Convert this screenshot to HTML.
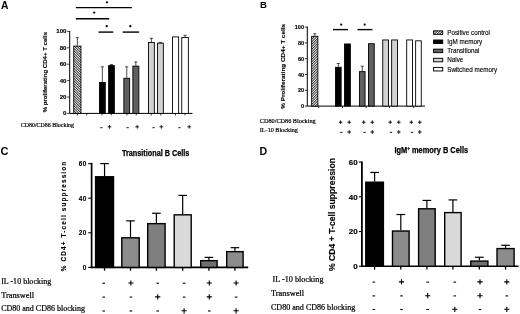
<!DOCTYPE html><html><head><meta charset="utf-8"><style>html,body{margin:0;padding:0;background:#fff;}svg{display:block;will-change:transform;} text{-webkit-font-smoothing:antialiased;}</style></head><body>
<svg width="520" height="314" viewBox="0 0 520 314">
<defs>
<pattern id="hA" patternUnits="userSpaceOnUse" width="1.77" height="4" patternTransform="rotate(-45)"><rect width="1.77" height="4" fill="#fff"/><rect width="0.75" height="4" fill="#000"/></pattern>
<pattern id="hB" patternUnits="userSpaceOnUse" width="1.77" height="4" patternTransform="rotate(45)"><rect width="1.77" height="4" fill="#fff"/><rect width="0.75" height="4" fill="#000"/></pattern>
</defs>
<rect width="520" height="314" fill="#fff"/>
<text x="1.0" y="8.9" font-family='"Liberation Sans", sans-serif' font-size="10.3" font-weight="bold" text-anchor="start" fill="#000" >A</text>
<line x1="69.7" y1="31.0" x2="69.7" y2="113.4" stroke="#000" stroke-width="1"/>
<line x1="69.7" y1="113.4" x2="192.5" y2="113.4" stroke="#000" stroke-width="1"/>
<line x1="67.2" y1="113.40" x2="69.7" y2="113.40" stroke="#000" stroke-width="0.8"/>
<text x="66.5" y="115.30" font-family='"Liberation Sans", sans-serif' font-size="6.1" font-weight="bold" text-anchor="end" fill="#000" stroke="#000" stroke-width="0.15">0</text>
<line x1="67.2" y1="97.00" x2="69.7" y2="97.00" stroke="#000" stroke-width="0.8"/>
<text x="66.5" y="98.90" font-family='"Liberation Sans", sans-serif' font-size="6.1" font-weight="bold" text-anchor="end" fill="#000" stroke="#000" stroke-width="0.15">20</text>
<line x1="67.2" y1="80.60" x2="69.7" y2="80.60" stroke="#000" stroke-width="0.8"/>
<text x="66.5" y="82.50" font-family='"Liberation Sans", sans-serif' font-size="6.1" font-weight="bold" text-anchor="end" fill="#000" stroke="#000" stroke-width="0.15">40</text>
<line x1="67.2" y1="64.20" x2="69.7" y2="64.20" stroke="#000" stroke-width="0.8"/>
<text x="66.5" y="66.10" font-family='"Liberation Sans", sans-serif' font-size="6.1" font-weight="bold" text-anchor="end" fill="#000" stroke="#000" stroke-width="0.15">60</text>
<line x1="67.2" y1="47.80" x2="69.7" y2="47.80" stroke="#000" stroke-width="0.8"/>
<text x="66.5" y="49.70" font-family='"Liberation Sans", sans-serif' font-size="6.1" font-weight="bold" text-anchor="end" fill="#000" stroke="#000" stroke-width="0.15">80</text>
<line x1="67.2" y1="31.40" x2="69.7" y2="31.40" stroke="#000" stroke-width="0.8"/>
<text x="66.5" y="33.30" font-family='"Liberation Sans", sans-serif' font-size="6.1" font-weight="bold" text-anchor="end" fill="#000" stroke="#000" stroke-width="0.15">100</text>
<line x1="77.5" y1="113.4" x2="77.5" y2="115.4" stroke="#000" stroke-width="0.8"/>
<line x1="86.75" y1="113.4" x2="86.75" y2="115.4" stroke="#000" stroke-width="0.8"/>
<line x1="102" y1="113.4" x2="102" y2="115.4" stroke="#000" stroke-width="0.8"/>
<line x1="111.25" y1="113.4" x2="111.25" y2="115.4" stroke="#000" stroke-width="0.8"/>
<line x1="127" y1="113.4" x2="127" y2="115.4" stroke="#000" stroke-width="0.8"/>
<line x1="136.25" y1="113.4" x2="136.25" y2="115.4" stroke="#000" stroke-width="0.8"/>
<line x1="151.25" y1="113.4" x2="151.25" y2="115.4" stroke="#000" stroke-width="0.8"/>
<line x1="160.75" y1="113.4" x2="160.75" y2="115.4" stroke="#000" stroke-width="0.8"/>
<line x1="175.5" y1="113.4" x2="175.5" y2="115.4" stroke="#000" stroke-width="0.8"/>
<line x1="185" y1="113.4" x2="185" y2="115.4" stroke="#000" stroke-width="0.8"/>
<text x="0" y="0" transform="translate(45.2,72.1) rotate(-90)" font-family='"Liberation Sans", sans-serif' font-size="6" font-weight="bold" text-anchor="middle" dominant-baseline="central" stroke="#000" stroke-width="0.12" textLength="80.4" lengthAdjust="spacingAndGlyphs" >% proliferating CD4+ T cells</text>
<rect x="73.75" y="46.12" width="7.20" height="67.28" fill="url(#hA)" stroke="#000" stroke-width="0.9"/>
<line x1="77.35" y1="45.67" x2="77.35" y2="37.71" stroke="#000" stroke-width="0.7"/>
<line x1="75.75" y1="37.71" x2="78.95" y2="37.71" stroke="#000" stroke-width="0.7"/>
<rect x="99.45" y="82.44" width="5.80" height="30.96" fill="#000" stroke="#000" stroke-width="0.9"/>
<line x1="102.35" y1="81.99" x2="102.35" y2="66.82" stroke="#000" stroke-width="0.7"/>
<line x1="100.75" y1="66.82" x2="103.95" y2="66.82" stroke="#000" stroke-width="0.7"/>
<rect x="108.65" y="65.63" width="5.70" height="47.77" fill="#000" stroke="#000" stroke-width="0.9"/>
<line x1="111.50" y1="65.18" x2="111.50" y2="64.61" stroke="#000" stroke-width="0.7"/>
<line x1="109.90" y1="64.61" x2="113.10" y2="64.61" stroke="#000" stroke-width="0.7"/>
<rect x="123.85" y="78.26" width="5.80" height="35.14" fill="#5f5f5f" stroke="#000" stroke-width="0.9"/>
<line x1="126.75" y1="77.81" x2="126.75" y2="66.82" stroke="#000" stroke-width="0.7"/>
<line x1="125.15" y1="66.82" x2="128.35" y2="66.82" stroke="#000" stroke-width="0.7"/>
<rect x="132.85" y="66.13" width="6.00" height="47.27" fill="#5f5f5f" stroke="#000" stroke-width="0.9"/>
<line x1="135.85" y1="65.68" x2="135.85" y2="61.90" stroke="#000" stroke-width="0.7"/>
<line x1="134.25" y1="61.90" x2="137.45" y2="61.90" stroke="#000" stroke-width="0.7"/>
<rect x="148.45" y="42.51" width="5.90" height="70.89" fill="#d2d2d2" stroke="#000" stroke-width="0.9"/>
<line x1="151.40" y1="42.06" x2="151.40" y2="38.29" stroke="#000" stroke-width="0.7"/>
<line x1="149.80" y1="38.29" x2="153.00" y2="38.29" stroke="#000" stroke-width="0.7"/>
<rect x="157.55" y="43.17" width="5.80" height="70.23" fill="#d2d2d2" stroke="#000" stroke-width="0.9"/>
<line x1="160.45" y1="42.72" x2="160.45" y2="42.39" stroke="#000" stroke-width="0.7"/>
<line x1="158.85" y1="42.39" x2="162.05" y2="42.39" stroke="#000" stroke-width="0.7"/>
<rect x="172.55" y="36.93" width="6.10" height="76.47" fill="#fff" stroke="#000" stroke-width="0.9"/>
<rect x="181.75" y="37.51" width="6.60" height="75.89" fill="#fff" stroke="#000" stroke-width="0.9"/>
<line x1="185.05" y1="37.06" x2="185.05" y2="35.25" stroke="#000" stroke-width="0.7"/>
<line x1="183.45" y1="35.25" x2="186.65" y2="35.25" stroke="#000" stroke-width="0.7"/>
<line x1="75.8" y1="7.6" x2="131.8" y2="7.6" stroke="#000" stroke-width="1.4"/>
<line x1="75.8" y1="18.8" x2="109.2" y2="18.8" stroke="#000" stroke-width="1.4"/>
<line x1="98.5" y1="32.1" x2="113.3" y2="32.1" stroke="#000" stroke-width="1.4"/>
<line x1="122.7" y1="32.1" x2="139.1" y2="32.1" stroke="#000" stroke-width="1.4"/>
<circle cx="106.9" cy="2.3" r="1.15" fill="#000"/>
<circle cx="94.2" cy="12.6" r="1.15" fill="#000"/>
<circle cx="106.7" cy="26.2" r="1.15" fill="#000"/>
<circle cx="130.3" cy="26.2" r="1.15" fill="#000"/>
<text x="20.8" y="127.2" font-family='"Liberation Serif", serif' font-size="6.1" font-weight="normal" text-anchor="start" fill="#000" textLength="53.2" lengthAdjust="spacingAndGlyphs" stroke="#000" stroke-width="0.2">CD80/CD86 Blocking</text>
<path d="M100.20 127.70H102.60" stroke="#000" stroke-width="0.85" fill="none"/>
<path d="M107.60 126.80H111.40M109.50 124.90V128.70" stroke="#000" stroke-width="0.85" fill="none"/>
<path d="M126.40 127.70H128.80" stroke="#000" stroke-width="0.85" fill="none"/>
<path d="M135.30 126.80H139.10M137.20 124.90V128.70" stroke="#000" stroke-width="0.85" fill="none"/>
<path d="M152.40 127.70H154.80" stroke="#000" stroke-width="0.85" fill="none"/>
<path d="M159.40 126.80H163.20M161.30 124.90V128.70" stroke="#000" stroke-width="0.85" fill="none"/>
<path d="M178.30 127.70H180.70" stroke="#000" stroke-width="0.85" fill="none"/>
<path d="M187.30 126.80H191.10M189.20 124.90V128.70" stroke="#000" stroke-width="0.85" fill="none"/>
<text x="259.9" y="8.3" font-family='"Liberation Sans", sans-serif' font-size="9.6" font-weight="bold" text-anchor="start" fill="#000" >B</text>
<line x1="307.3" y1="26.6" x2="307.3" y2="106.1" stroke="#000" stroke-width="1"/>
<line x1="307.3" y1="106.1" x2="425" y2="106.1" stroke="#000" stroke-width="1"/>
<line x1="304.8" y1="106.10" x2="307.3" y2="106.10" stroke="#000" stroke-width="0.8"/>
<text x="304.0" y="108.10" font-family='"Liberation Sans", sans-serif' font-size="5.5" font-weight="bold" text-anchor="end" fill="#000" stroke="#000" stroke-width="0.15">0</text>
<line x1="304.8" y1="90.30" x2="307.3" y2="90.30" stroke="#000" stroke-width="0.8"/>
<text x="304.0" y="92.30" font-family='"Liberation Sans", sans-serif' font-size="5.5" font-weight="bold" text-anchor="end" fill="#000" stroke="#000" stroke-width="0.15">20</text>
<line x1="304.8" y1="74.50" x2="307.3" y2="74.50" stroke="#000" stroke-width="0.8"/>
<text x="304.0" y="76.50" font-family='"Liberation Sans", sans-serif' font-size="5.5" font-weight="bold" text-anchor="end" fill="#000" stroke="#000" stroke-width="0.15">40</text>
<line x1="304.8" y1="58.70" x2="307.3" y2="58.70" stroke="#000" stroke-width="0.8"/>
<text x="304.0" y="60.70" font-family='"Liberation Sans", sans-serif' font-size="5.5" font-weight="bold" text-anchor="end" fill="#000" stroke="#000" stroke-width="0.15">60</text>
<line x1="304.8" y1="42.90" x2="307.3" y2="42.90" stroke="#000" stroke-width="0.8"/>
<text x="304.0" y="44.90" font-family='"Liberation Sans", sans-serif' font-size="5.5" font-weight="bold" text-anchor="end" fill="#000" stroke="#000" stroke-width="0.15">80</text>
<line x1="304.8" y1="27.10" x2="307.3" y2="27.10" stroke="#000" stroke-width="0.8"/>
<text x="304.0" y="29.10" font-family='"Liberation Sans", sans-serif' font-size="5.5" font-weight="bold" text-anchor="end" fill="#000" stroke="#000" stroke-width="0.15">100</text>
<line x1="318.75" y1="106.1" x2="318.75" y2="108.1" stroke="#000" stroke-width="0.8"/>
<line x1="342.5" y1="106.1" x2="342.5" y2="108.1" stroke="#000" stroke-width="0.8"/>
<line x1="366.25" y1="106.1" x2="366.25" y2="108.1" stroke="#000" stroke-width="0.8"/>
<line x1="389.5" y1="106.1" x2="389.5" y2="108.1" stroke="#000" stroke-width="0.8"/>
<line x1="413.75" y1="106.1" x2="413.75" y2="108.1" stroke="#000" stroke-width="0.8"/>
<text x="0" y="0" transform="translate(283.0,66.4) rotate(-90)" font-family='"Liberation Sans", sans-serif' font-size="5.8" font-weight="bold" text-anchor="middle" dominant-baseline="central" stroke="#000" stroke-width="0.12" textLength="84.8" lengthAdjust="spacingAndGlyphs" >% Proliferating CD4+ T cells</text>
<rect x="311.65" y="36.32" width="6.20" height="69.78" fill="url(#hB)" stroke="#000" stroke-width="0.9"/>
<line x1="314.75" y1="35.87" x2="314.75" y2="33.74" stroke="#000" stroke-width="0.7"/>
<line x1="313.15" y1="33.74" x2="316.35" y2="33.74" stroke="#000" stroke-width="0.7"/>
<rect x="335.45" y="67.29" width="5.70" height="38.81" fill="#000" stroke="#000" stroke-width="0.9"/>
<line x1="338.30" y1="66.84" x2="338.30" y2="63.52" stroke="#000" stroke-width="0.7"/>
<line x1="336.70" y1="63.52" x2="339.90" y2="63.52" stroke="#000" stroke-width="0.7"/>
<rect x="344.55" y="43.98" width="5.80" height="62.12" fill="#000" stroke="#000" stroke-width="0.9"/>
<rect x="359.45" y="71.63" width="5.60" height="34.47" fill="#5f5f5f" stroke="#000" stroke-width="0.9"/>
<line x1="362.25" y1="71.18" x2="362.25" y2="66.20" stroke="#000" stroke-width="0.7"/>
<line x1="360.65" y1="66.20" x2="363.85" y2="66.20" stroke="#000" stroke-width="0.7"/>
<rect x="368.45" y="43.74" width="5.80" height="62.35" fill="#5f5f5f" stroke="#000" stroke-width="0.9"/>
<rect x="382.75" y="39.95" width="5.80" height="66.15" fill="#d2d2d2" stroke="#000" stroke-width="0.9"/>
<rect x="391.65" y="39.95" width="5.80" height="66.15" fill="#d2d2d2" stroke="#000" stroke-width="0.9"/>
<rect x="406.70" y="39.95" width="5.75" height="66.15" fill="#fff" stroke="#000" stroke-width="0.9"/>
<rect x="415.65" y="40.82" width="5.60" height="65.28" fill="#fff" stroke="#000" stroke-width="0.9"/>
<line x1="333" y1="29.6" x2="348" y2="29.6" stroke="#000" stroke-width="1.4"/>
<line x1="357.5" y1="29.6" x2="372.4" y2="29.6" stroke="#000" stroke-width="1.4"/>
<circle cx="341.2" cy="24.6" r="1.15" fill="#000"/>
<circle cx="364.7" cy="24.6" r="1.15" fill="#000"/>
<rect x="433.6" y="30.85" width="9.1" height="3.5" fill="url(#hB)" stroke="#000" stroke-width="0.95"/>
<text x="447.2" y="34.85" font-family='"Liberation Sans", sans-serif' font-size="6.3" font-weight="normal" text-anchor="start" fill="#000" stroke="#000" stroke-width="0.12">Positive control</text>
<rect x="433.6" y="40.00" width="9.1" height="3.5" fill="#000" stroke="#000" stroke-width="0.95"/>
<text x="447.2" y="44.03" font-family='"Liberation Sans", sans-serif' font-size="6.3" font-weight="normal" text-anchor="start" fill="#000" stroke="#000" stroke-width="0.12">IgM memory</text>
<rect x="433.6" y="49.15" width="9.1" height="3.5" fill="#5f5f5f" stroke="#000" stroke-width="0.95"/>
<text x="447.2" y="53.21" font-family='"Liberation Sans", sans-serif' font-size="6.3" font-weight="normal" text-anchor="start" fill="#000" stroke="#000" stroke-width="0.12">Transitional</text>
<rect x="433.6" y="58.30" width="9.1" height="3.5" fill="#d2d2d2" stroke="#000" stroke-width="0.95"/>
<text x="447.2" y="62.39" font-family='"Liberation Sans", sans-serif' font-size="6.3" font-weight="normal" text-anchor="start" fill="#000" stroke="#000" stroke-width="0.12">Naive</text>
<rect x="433.6" y="67.45" width="9.1" height="3.5" fill="#fff" stroke="#000" stroke-width="0.95"/>
<text x="447.2" y="71.57" font-family='"Liberation Sans", sans-serif' font-size="6.3" font-weight="normal" text-anchor="start" fill="#000" stroke="#000" stroke-width="0.12">Switched memory</text>
<text x="259.8" y="123.0" font-family='"Liberation Serif", serif' font-size="6.4" font-weight="normal" text-anchor="start" fill="#000" textLength="55.8" lengthAdjust="spacingAndGlyphs" stroke="#000" stroke-width="0.2">CD80/CD86 Blocking</text>
<text x="259.8" y="132.2" font-family='"Liberation Serif", serif' font-size="6.4" font-weight="normal" text-anchor="start" fill="#000" textLength="38" lengthAdjust="spacingAndGlyphs" stroke="#000" stroke-width="0.2">IL-10 Blocking</text>
<path d="M338.80 122.20H342.40M340.60 120.40V124.00" stroke="#000" stroke-width="0.9" fill="none"/>
<path d="M340.20 132.40H342.60" stroke="#000" stroke-width="0.9" fill="none"/>
<path d="M347.40 122.20H351.00M349.20 120.40V124.00" stroke="#000" stroke-width="0.9" fill="none"/>
<path d="M347.40 132.00H351.00M349.20 130.20V133.80" stroke="#000" stroke-width="0.9" fill="none"/>
<path d="M361.90 122.20H365.50M363.70 120.40V124.00" stroke="#000" stroke-width="0.9" fill="none"/>
<path d="M363.30 132.40H365.70" stroke="#000" stroke-width="0.9" fill="none"/>
<path d="M370.50 122.20H374.10M372.30 120.40V124.00" stroke="#000" stroke-width="0.9" fill="none"/>
<path d="M370.50 132.00H374.10M372.30 130.20V133.80" stroke="#000" stroke-width="0.9" fill="none"/>
<path d="M388.40 122.20H392.00M390.20 120.40V124.00" stroke="#000" stroke-width="0.9" fill="none"/>
<path d="M389.80 132.40H392.20" stroke="#000" stroke-width="0.9" fill="none"/>
<path d="M397.00 122.20H400.60M398.80 120.40V124.00" stroke="#000" stroke-width="0.9" fill="none"/>
<path d="M397.00 132.00H400.60M398.80 130.20V133.80" stroke="#000" stroke-width="0.9" fill="none"/>
<path d="M409.50 122.20H413.10M411.30 120.40V124.00" stroke="#000" stroke-width="0.9" fill="none"/>
<path d="M410.90 132.40H413.30" stroke="#000" stroke-width="0.9" fill="none"/>
<path d="M418.00 122.20H421.60M419.80 120.40V124.00" stroke="#000" stroke-width="0.9" fill="none"/>
<path d="M418.00 132.00H421.60M419.80 130.20V133.80" stroke="#000" stroke-width="0.9" fill="none"/>
<text x="0.5" y="155.1" font-family='"Liberation Sans", sans-serif' font-size="11" font-weight="bold" text-anchor="start" fill="#000" >C</text>
<line x1="91.6" y1="162.8" x2="91.6" y2="268.2" stroke="#000" stroke-width="1.7"/>
<line x1="90.8" y1="267.4" x2="248.2" y2="267.4" stroke="#000" stroke-width="1.6"/>
<line x1="88.19999999999999" y1="267.40" x2="91.6" y2="267.40" stroke="#000" stroke-width="1.1"/>
<text x="86.5" y="269.70" font-family='"Liberation Sans", sans-serif' font-size="6.4" font-weight="bold" text-anchor="end" fill="#000" letter-spacing="0.3" stroke="#000" stroke-width="0.12">0</text>
<line x1="88.19999999999999" y1="232.80" x2="91.6" y2="232.80" stroke="#000" stroke-width="1.1"/>
<text x="86.5" y="235.10" font-family='"Liberation Sans", sans-serif' font-size="6.4" font-weight="bold" text-anchor="end" fill="#000" letter-spacing="0.3" stroke="#000" stroke-width="0.12">20</text>
<line x1="88.19999999999999" y1="198.20" x2="91.6" y2="198.20" stroke="#000" stroke-width="1.1"/>
<text x="86.5" y="200.50" font-family='"Liberation Sans", sans-serif' font-size="6.4" font-weight="bold" text-anchor="end" fill="#000" letter-spacing="0.3" stroke="#000" stroke-width="0.12">40</text>
<line x1="88.19999999999999" y1="163.60" x2="91.6" y2="163.60" stroke="#000" stroke-width="1.1"/>
<text x="86.5" y="165.90" font-family='"Liberation Sans", sans-serif' font-size="6.4" font-weight="bold" text-anchor="end" fill="#000" letter-spacing="0.3" stroke="#000" stroke-width="0.12">60</text>
<text x="0" y="0" transform="translate(63.9,216.5) rotate(-90)" font-family='"Liberation Sans", sans-serif' font-size="6.4" font-weight="bold" text-anchor="middle" dominant-baseline="central" stroke="#000" stroke-width="0.12" textLength="109.5" lengthAdjust="spacing" >% CD4+ T-cell suppression</text>
<text x="121.9" y="156.0" font-family='"Liberation Sans", sans-serif' font-size="8.3" font-weight="bold" text-anchor="start" fill="#000" textLength="67.5" lengthAdjust="spacingAndGlyphs" stroke="#000" stroke-width="0.25">Transitional B Cells</text>
<rect x="95.60" y="176.76" width="17.90" height="90.64" fill="#000" stroke="#000" stroke-width="1.4"/>
<line x1="104.55" y1="176.06" x2="104.55" y2="163.60" stroke="#000" stroke-width="1.2"/>
<line x1="100.25" y1="163.60" x2="108.85" y2="163.60" stroke="#000" stroke-width="1.2"/>
<line x1="104.55" y1="267.4" x2="104.55" y2="270.7" stroke="#000" stroke-width="1.3"/>
<rect x="121.80" y="237.82" width="17.40" height="29.58" fill="#8c8c8c" stroke="#000" stroke-width="1.4"/>
<line x1="130.50" y1="237.12" x2="130.50" y2="220.86" stroke="#000" stroke-width="1.2"/>
<line x1="126.20" y1="220.86" x2="134.80" y2="220.86" stroke="#000" stroke-width="1.2"/>
<line x1="130.50" y1="267.4" x2="130.50" y2="270.7" stroke="#000" stroke-width="1.3"/>
<rect x="147.70" y="223.64" width="17.40" height="43.76" fill="#7f7f7f" stroke="#000" stroke-width="1.4"/>
<line x1="156.40" y1="222.94" x2="156.40" y2="213.25" stroke="#000" stroke-width="1.2"/>
<line x1="152.10" y1="213.25" x2="160.70" y2="213.25" stroke="#000" stroke-width="1.2"/>
<line x1="156.40" y1="267.4" x2="156.40" y2="270.7" stroke="#000" stroke-width="1.3"/>
<rect x="174.20" y="214.82" width="17.00" height="52.58" fill="#d9d9d9" stroke="#000" stroke-width="1.4"/>
<line x1="182.70" y1="214.12" x2="182.70" y2="195.43" stroke="#000" stroke-width="1.2"/>
<line x1="178.40" y1="195.43" x2="187.00" y2="195.43" stroke="#000" stroke-width="1.2"/>
<line x1="182.70" y1="267.4" x2="182.70" y2="270.7" stroke="#000" stroke-width="1.3"/>
<rect x="200.70" y="260.66" width="16.40" height="6.74" fill="#6e6e6e" stroke="#000" stroke-width="1.4"/>
<line x1="208.90" y1="259.96" x2="208.90" y2="257.37" stroke="#000" stroke-width="1.2"/>
<line x1="204.60" y1="257.37" x2="213.20" y2="257.37" stroke="#000" stroke-width="1.2"/>
<line x1="208.90" y1="267.4" x2="208.90" y2="270.7" stroke="#000" stroke-width="1.3"/>
<rect x="226.70" y="251.66" width="16.40" height="15.74" fill="#8c8c8c" stroke="#000" stroke-width="1.4"/>
<line x1="234.90" y1="250.96" x2="234.90" y2="247.68" stroke="#000" stroke-width="1.2"/>
<line x1="230.60" y1="247.68" x2="239.20" y2="247.68" stroke="#000" stroke-width="1.2"/>
<line x1="234.90" y1="267.4" x2="234.90" y2="270.7" stroke="#000" stroke-width="1.3"/>
<text x="1.2" y="283.8" font-family='"Liberation Serif", serif' font-size="8.2" font-weight="normal" text-anchor="start" fill="#000" textLength="50" lengthAdjust="spacingAndGlyphs" stroke="#000" stroke-width="0.22">IL -10 blocking</text>
<text x="1.2" y="297.5" font-family='"Liberation Serif", serif' font-size="8.2" font-weight="normal" text-anchor="start" fill="#000" textLength="32.8" lengthAdjust="spacingAndGlyphs" stroke="#000" stroke-width="0.22">Transwell</text>
<text x="1.2" y="311.0" font-family='"Liberation Serif", serif' font-size="8.2" font-weight="normal" text-anchor="start" fill="#000" textLength="83.8" lengthAdjust="spacingAndGlyphs" stroke="#000" stroke-width="0.22">CD80 and CD86 blocking</text>
<path d="M102.40 283.20H105.00" stroke="#000" stroke-width="1.1" fill="none"/>
<path d="M128.30 283.00H133.50M130.90 280.40V285.60" stroke="#000" stroke-width="1.1" fill="none"/>
<path d="M156.40 283.20H159.00" stroke="#000" stroke-width="1.1" fill="none"/>
<path d="M182.80 283.20H185.40" stroke="#000" stroke-width="1.1" fill="none"/>
<path d="M206.70 283.00H211.90M209.30 280.40V285.60" stroke="#000" stroke-width="1.1" fill="none"/>
<path d="M233.50 283.00H238.70M236.10 280.40V285.60" stroke="#000" stroke-width="1.1" fill="none"/>
<path d="M102.40 297.10H105.00" stroke="#000" stroke-width="1.1" fill="none"/>
<path d="M129.60 297.10H132.20" stroke="#000" stroke-width="1.1" fill="none"/>
<path d="M155.10 296.90H160.30M157.70 294.30V299.50" stroke="#000" stroke-width="1.1" fill="none"/>
<path d="M182.80 297.10H185.40" stroke="#000" stroke-width="1.1" fill="none"/>
<path d="M206.70 296.90H211.90M209.30 294.30V299.50" stroke="#000" stroke-width="1.1" fill="none"/>
<path d="M234.80 297.10H237.40" stroke="#000" stroke-width="1.1" fill="none"/>
<path d="M102.40 311.00H105.00" stroke="#000" stroke-width="1.1" fill="none"/>
<path d="M129.60 311.00H132.20" stroke="#000" stroke-width="1.1" fill="none"/>
<path d="M156.40 311.00H159.00" stroke="#000" stroke-width="1.1" fill="none"/>
<path d="M181.50 310.80H186.70M184.10 308.20V313.40" stroke="#000" stroke-width="1.1" fill="none"/>
<path d="M208.00 311.00H210.60" stroke="#000" stroke-width="1.1" fill="none"/>
<path d="M233.50 310.80H238.70M236.10 308.20V313.40" stroke="#000" stroke-width="1.1" fill="none"/>
<text x="259.4" y="154.9" font-family='"Liberation Sans", sans-serif' font-size="10.6" font-weight="bold" text-anchor="start" fill="#000" >D</text>
<line x1="361.9" y1="161.4" x2="361.9" y2="267.1" stroke="#000" stroke-width="1.8"/>
<line x1="361.0" y1="266.3" x2="518.6" y2="266.3" stroke="#000" stroke-width="1.6"/>
<line x1="358.9" y1="266.30" x2="361.9" y2="266.30" stroke="#000" stroke-width="1.1"/>
<text x="357.59999999999997" y="269.20" font-family='"Liberation Sans", sans-serif' font-size="8" font-weight="bold" text-anchor="end" fill="#000" stroke="#000" stroke-width="0.15">0</text>
<line x1="358.9" y1="231.54" x2="361.9" y2="231.54" stroke="#000" stroke-width="1.1"/>
<text x="357.59999999999997" y="234.44" font-family='"Liberation Sans", sans-serif' font-size="8" font-weight="bold" text-anchor="end" fill="#000" stroke="#000" stroke-width="0.15">20</text>
<line x1="358.9" y1="196.78" x2="361.9" y2="196.78" stroke="#000" stroke-width="1.1"/>
<text x="357.59999999999997" y="199.68" font-family='"Liberation Sans", sans-serif' font-size="8" font-weight="bold" text-anchor="end" fill="#000" stroke="#000" stroke-width="0.15">40</text>
<line x1="358.9" y1="162.02" x2="361.9" y2="162.02" stroke="#000" stroke-width="1.1"/>
<text x="357.59999999999997" y="164.92" font-family='"Liberation Sans", sans-serif' font-size="8" font-weight="bold" text-anchor="end" fill="#000" stroke="#000" stroke-width="0.15">60</text>
<text x="0" y="0" transform="translate(332.8,214.5) rotate(-90)" font-family='"Liberation Sans", sans-serif' font-size="8.2" font-weight="bold" text-anchor="middle" dominant-baseline="central" stroke="#000" stroke-width="0.12" textLength="113" lengthAdjust="spacingAndGlyphs" >% CD4 + T-cell suppression</text>
<text x="394.5" y="153.2" font-family='"Liberation Sans", sans-serif' font-size="8.3" font-weight="bold" text-anchor="start" fill="#000" textLength="73.6" lengthAdjust="spacingAndGlyphs" stroke="#000" stroke-width="0.25">IgM<tspan font-size="5" dy="-3">+</tspan><tspan dy="3"> memory B Cells</tspan></text>
<rect x="365.80" y="182.19" width="17.60" height="84.11" fill="#000" stroke="#000" stroke-width="1.4"/>
<line x1="374.60" y1="181.49" x2="374.60" y2="172.45" stroke="#000" stroke-width="1.2"/>
<line x1="370.25" y1="172.45" x2="378.95" y2="172.45" stroke="#000" stroke-width="1.2"/>
<line x1="374.60" y1="266.3" x2="374.60" y2="269.6" stroke="#000" stroke-width="1.3"/>
<rect x="392.50" y="231.02" width="16.60" height="35.28" fill="#8c8c8c" stroke="#000" stroke-width="1.4"/>
<line x1="400.80" y1="230.32" x2="400.80" y2="214.51" stroke="#000" stroke-width="1.2"/>
<line x1="396.45" y1="214.51" x2="405.15" y2="214.51" stroke="#000" stroke-width="1.2"/>
<line x1="400.80" y1="266.3" x2="400.80" y2="269.6" stroke="#000" stroke-width="1.3"/>
<rect x="418.60" y="208.78" width="16.60" height="57.52" fill="#7f7f7f" stroke="#000" stroke-width="1.4"/>
<line x1="426.90" y1="208.08" x2="426.90" y2="200.43" stroke="#000" stroke-width="1.2"/>
<line x1="422.55" y1="200.43" x2="431.25" y2="200.43" stroke="#000" stroke-width="1.2"/>
<line x1="426.90" y1="266.3" x2="426.90" y2="269.6" stroke="#000" stroke-width="1.3"/>
<rect x="444.70" y="212.60" width="16.40" height="53.70" fill="#d9d9d9" stroke="#000" stroke-width="1.4"/>
<line x1="452.90" y1="211.90" x2="452.90" y2="199.91" stroke="#000" stroke-width="1.2"/>
<line x1="448.55" y1="199.91" x2="457.25" y2="199.91" stroke="#000" stroke-width="1.2"/>
<line x1="452.90" y1="266.3" x2="452.90" y2="269.6" stroke="#000" stroke-width="1.3"/>
<rect x="470.80" y="261.09" width="17.10" height="5.21" fill="#6e6e6e" stroke="#000" stroke-width="1.4"/>
<line x1="479.35" y1="260.39" x2="479.35" y2="257.26" stroke="#000" stroke-width="1.2"/>
<line x1="475.00" y1="257.26" x2="483.70" y2="257.26" stroke="#000" stroke-width="1.2"/>
<line x1="479.35" y1="266.3" x2="479.35" y2="269.6" stroke="#000" stroke-width="1.3"/>
<rect x="497.00" y="248.58" width="17.10" height="17.72" fill="#8c8c8c" stroke="#000" stroke-width="1.4"/>
<line x1="505.55" y1="247.88" x2="505.55" y2="245.27" stroke="#000" stroke-width="1.2"/>
<line x1="501.20" y1="245.27" x2="509.90" y2="245.27" stroke="#000" stroke-width="1.2"/>
<line x1="505.55" y1="266.3" x2="505.55" y2="269.6" stroke="#000" stroke-width="1.3"/>
<text x="272.5" y="282.3" font-family='"Liberation Serif", serif' font-size="8.2" font-weight="normal" text-anchor="start" fill="#000" textLength="51" lengthAdjust="spacingAndGlyphs" stroke="#000" stroke-width="0.22">IL -10 blocking</text>
<text x="271.0" y="295.6" font-family='"Liberation Serif", serif' font-size="8.2" font-weight="normal" text-anchor="start" fill="#000" textLength="33" lengthAdjust="spacingAndGlyphs" stroke="#000" stroke-width="0.22">Transwell</text>
<text x="271.0" y="310.0" font-family='"Liberation Serif", serif' font-size="8.2" font-weight="normal" text-anchor="start" fill="#000" textLength="84.3" lengthAdjust="spacingAndGlyphs" stroke="#000" stroke-width="0.22">CD80 and CD86 blocking</text>
<path d="M372.50 282.10H375.10" stroke="#000" stroke-width="1.1" fill="none"/>
<path d="M398.90 281.90H404.10M401.50 279.30V284.50" stroke="#000" stroke-width="1.1" fill="none"/>
<path d="M426.40 282.10H429.00" stroke="#000" stroke-width="1.1" fill="none"/>
<path d="M453.50 282.10H456.10" stroke="#000" stroke-width="1.1" fill="none"/>
<path d="M477.40 281.90H482.60M480.00 279.30V284.50" stroke="#000" stroke-width="1.1" fill="none"/>
<path d="M504.20 281.90H509.40M506.80 279.30V284.50" stroke="#000" stroke-width="1.1" fill="none"/>
<path d="M372.50 295.90H375.10" stroke="#000" stroke-width="1.1" fill="none"/>
<path d="M400.20 295.90H402.80" stroke="#000" stroke-width="1.1" fill="none"/>
<path d="M425.10 295.70H430.30M427.70 293.10V298.30" stroke="#000" stroke-width="1.1" fill="none"/>
<path d="M453.50 295.90H456.10" stroke="#000" stroke-width="1.1" fill="none"/>
<path d="M477.40 295.70H482.60M480.00 293.10V298.30" stroke="#000" stroke-width="1.1" fill="none"/>
<path d="M505.50 295.90H508.10" stroke="#000" stroke-width="1.1" fill="none"/>
<path d="M372.50 309.50H375.10" stroke="#000" stroke-width="1.1" fill="none"/>
<path d="M400.20 309.50H402.80" stroke="#000" stroke-width="1.1" fill="none"/>
<path d="M426.40 309.50H429.00" stroke="#000" stroke-width="1.1" fill="none"/>
<path d="M452.20 309.30H457.40M454.80 306.70V311.90" stroke="#000" stroke-width="1.1" fill="none"/>
<path d="M478.70 309.50H481.30" stroke="#000" stroke-width="1.1" fill="none"/>
<path d="M504.20 309.30H509.40M506.80 306.70V311.90" stroke="#000" stroke-width="1.1" fill="none"/>
</svg></body></html>
